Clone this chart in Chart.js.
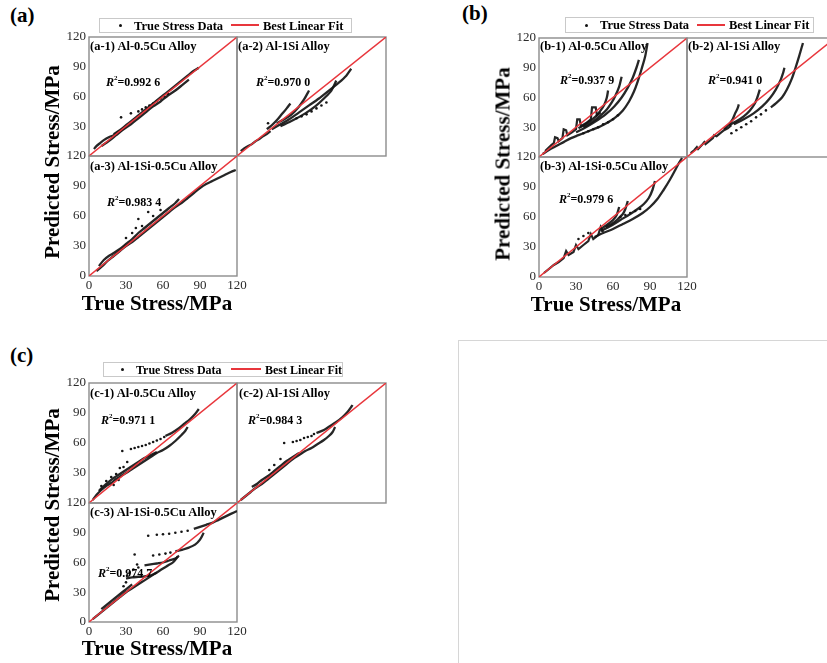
<!DOCTYPE html>
<html><head><meta charset="utf-8">
<script src="https://cdn.jsdelivr.net/npm/chart.js@4.4.1/dist/chart.umd.min.js"></script>
<style>
html,body{margin:0;padding:0;background:#fff;}
body{width:827px;height:663px;overflow:hidden;position:relative;font-family:"Liberation Serif","Times New Roman",serif;}
canvas{position:absolute;}
.t{position:absolute;white-space:nowrap;color:#000;font-weight:bold;line-height:1;}
.panel{font-size:21px;transform:translateY(-50%);}
.lab{font-size:12.5px;transform:translateY(-50%);}
.r2{font-size:12px;transform:translateY(-50%);}
.r2 sup{font-size:7px;vertical-align:top;position:relative;top:-1px;}
.ytit{font-size:21px;transform:translate(-50%,-50%) rotate(-90deg);}
.xtit{font-size:21px;transform:translate(-50%,-50%);}
.leg{position:absolute;border:1px solid #c9c9c9;box-sizing:border-box;background:#fff;}
.leg .txt{position:absolute;top:50%;transform:translateY(-50%);font-weight:bold;line-height:1;white-space:nowrap;}
.leg .dot{position:absolute;width:3px;height:3px;border-radius:50%;background:#111;}
.leg .ln{position:absolute;height:2px;background:#e8363c;}
.frame2{position:absolute;border-left:1px solid #d6d6d6;border-top:1px solid #d6d6d6;}
</style></head><body>
<script>
// ---------- data (true stress, predicted stress) in MPa ----------
const tickValues = [0, 30, 60, 90, 120];
const fitLine = [[0, 0], [120, 120]];
const legendLabels = ['True Stress Data', 'Best Linear Fit'];
const panelLetters = ['(a)', '(b)', '(c)'];
const alloyNames = ['Al-0.5Cu Alloy', 'Al-1Si Alloy', 'Al-1Si-0.5Cu Alloy'];
const r2Values = ['0.992 6', '0.970 0', '0.983 4', '0.937 9', '0.941 0', '0.979 6', '0.971 1', '0.984 3', '0.974 7'];

// (a-1)
const a1Band = [[4,7],[6,10],[9,13],[12,16],[16,19],[20,21],[25,25],[30,30]];
const a1Upper = [[20,22],[25,26],[30,31],[35,36],[40,41],[45,46],[50,51],[55,56],[60,61],[65,66],[70,71],[75,76],[80,81],[85,86],[89,89]];
const a1Lower = [[10,10],[16,15],[22,21],[28,27],[34,32],[40,38],[46,44],[52,50],[58,55],[64,61],[70,66],[76,72],[81,77]];
const a1Dots = [[26,39],[34,43],[40,45],[43,47],[46,49],[49,51],[52,53],[55,55.5],[58,58],[61,60],[64,62.5]];
// (a-2)
const a2Cluster = [[3,5],[6,8],[9,10],[12,12],[15,15],[18,17],[21,20],[24,22],[27,25]];
const a2Steep1 = [[24,27],[28,31],[32,36],[36,42],[40,48],[43,53]];
const a2Steep2 = [[32,33],[38,37],[44,42],[50,50],[54,57],[58,66]];
const a2Long = [[28,27],[35,32],[42,37],[50,44],[58,51],[66,58],[74,66],[82,74],[88,81],[92,88]];
const a2Low = [[35,30],[45,36],[55,43],[63,50],[70,58],[76,66],[80,76]];
const a2Dots = [[25,33],[48,38],[52,40],[56,42],[60,45],[64,48],[68,51],[72,54]];
// (a-3)
const a3Main = [[6,5],[10,9],[15,15],[20,20],[25,25],[30,30],[35,34],[40,39],[45,44],[50,49],[55,54],[60,59],[65,64],[70,69],[75,73],[80,78],[85,83],[90,88],[95,92],[100,95],[105,98],[110,101],[115,104],[119,106]];
const a3Upper = [[8,10],[12,16],[16,20],[20,23],[25,27],[30,32],[35,37],[40,43],[45,48],[50,53],[55,58],[60,63],[65,68],[70,73],[73,77]];
const a3Dots = [[30,38],[35,43],[38,48],[40,57],[43,50],[48,64],[52,60],[58,66]];

// (b-1)
const b1Long = [[3,3],[8,7],[14,11],[20,15],[26,19],[32,22],[38,25],[44,28],[50,31],[56,35],[62,40],[68,47],[73,56],[77,66],[80,76],[83,88],[86,101],[88,115]];
const b1Mid = [[30,25],[38,30],[46,36],[54,43],[61,51],[67,60],[72,70],[76,80],[79,90],[81,98]];
const b1Short = [[36,30],[44,36],[50,42],[55,48],[59,55],[62,62],[65,71],[67,81]];
const b1Spike = [[32,29],[40,35],[46,41],[50,47],[53,53],[55,60],[56,67]];
const b1Band = [[5,6],[10,12],[12,14],[13,20],[15,19],[16,16],[19,19],[20,28],[22,27],[23,22],[27,25],[30,28],[31,38],[33,38],[34,31],[38,34],[42,38],[43,50],[46,50],[47,42],[50,45]];
const b1Dots = [[36,24],[40,26],[44,28],[48,30],[52,33],[56,35],[60,38],[64,42]];
// (b-2)
const b2Band = [[3,4],[6,7],[8,10],[9,8],[12,12],[14,15],[15,13],[18,16],[21,19],[22,22],[24,21],[27,24],[30,27],[33,29],[36,32]];
const b2Long = [[68,50],[72,54],[77,60],[81,68],[85,79],[88,90],[91,102],[94,115]];
const b2Mid = [[38,33],[46,38],[54,44],[61,51],[67,59],[72,68],[76,78],[78,85],[79,90]];
const b2Short = [[34,32],[40,36],[46,41],[51,47],[55,54],[57,60],[59,68]];
const b2Spike = [[30,28],[34,33],[37,38],[39,44],[41,49],[42,53]];
const b2Dots = [[36,24],[40,27],[44,30],[48,33],[52,36],[56,40],[60,43],[64,47]];
// (b-3)
const b3Band = [[4,4],[8,8],[12,12],[16,15],[20,19],[22,26],[24,22],[28,25],[30,32],[32,28],[36,32],[40,36],[42,43],[44,38],[48,42],[50,50],[52,45]];
const b3Long = [[45,40],[52,44],[60,48],[68,53],[76,58],[84,64],[90,70],[96,78],[101,87],[106,97],[110,106],[113,113],[116,119]];
const b3Mid = [[50,46],[58,51],[66,57],[74,63],[80,68],[85,73],[89,79],[92,87],[94,96]];
const b3Short = [[54,50],[60,54],[64,58],[68,63],[70,68],[72,76]];
const b3Spike = [[50,48],[56,53],[60,57],[63,62],[65,70]];
const b3Dots = [[32,38],[36,41],[40,44],[66,60],[70,62],[74,64],[78,66],[82,68]];

// (c-1)
const c1Band = [[3,3],[6,8],[10,13],[14,17],[18,20],[22,24],[26,27],[30,30],[35,34],[40,38],[45,42],[50,46],[55,50],[60,53],[65,57],[70,62],[75,68],[78,72],[80,76]];
const c1Band2 = [[8,12],[12,17],[16,21],[20,25],[25,29],[30,33],[35,37],[40,41],[45,45],[50,48],[55,51]];
const c1Upper = [[62,67],[67,70],[72,74],[77,79],[82,84],[86,89],[89,94]];
const c1Dots = [[27,52],[34,54],[37,55],[40,56],[43,57],[46,58],[49,59.5],[52,61],[55,62.5],[58,64],[61,66],[10,17],[14,22],[18,26],[22,29],[25,35],[28,36],[31,41],[20,18],[24,23]];
// (c-2)
const c2Band = [[3,3],[7,7],[11,11],[15,15],[20,19],[25,24],[30,29],[35,34],[40,39],[45,44],[50,48],[55,52],[60,55],[65,59],[70,63],[74,67],[77,71],[79,76]];
const c2Band2 = [[12,16],[16,19],[20,23],[25,27],[30,32],[35,37],[40,42],[45,46],[50,50]];
const c2Upper = [[64,70],[70,73],[75,77],[80,81],[85,86],[89,91],[92,96],[93,98]];
const c2Dots = [[38,60],[45,61],[48,62],[51,63],[54,65],[57,66],[60,67],[62,69],[26,33],[30,38],[35,44]];
// (c-3)
const c3Band = [[3,3],[7,7],[11,11],[15,15],[20,20],[25,25],[30,30],[35,34],[40,38],[45,42],[50,46],[55,50],[60,54],[64,57],[68,60],[72,66]];
const c3Band2 = [[10,13],[15,18],[20,23],[25,28],[30,33],[35,38]];
const c3Flat = [[45,57],[50,58],[55,59],[60,60],[65,62],[70,64],[73,67]];
const c3Streak = [[30,44],[35,45],[40,45.5],[45,46],[50,47],[55,50]];
const c3Mid = [[70,71],[76,73],[81,75],[86,78],[90,83],[93,90]];
const c3Top = [[85,94],[90,96],[95,98],[100,100],[105,103],[110,106],[115,109],[120,112]];
const c3Dots = [[48,87],[55,88],[60,88.5],[65,89],[70,90],[75,91],[80,92],[52,67],[57,68],[62,69],[66,70],[37,68],[39,58],[31,47],[33,50],[36,53],[40,55],[28,36],[30,40]];

// ---------- layout ----------
const PAD = {l: 40, t: 10, r: 14, b: 24};
const FONT = '"Liberation Serif","Times New Roman",serif';
const PANELS = [
  {letter: 0, lx: 10, ly: 15, xs: [89, 237, 386], ys: [37, 156, 276], leg: [99, 18, 253, 15, 0],
   ytit: [52, 162], xtit: [157, 303]},
  {letter: 1, lx: 462, ly: 13, xs: [539, 687, 835], ys: [38, 157, 277], leg: [565, 17, 249, 16, 0],
   ytit: [503, 164], xtit: [606, 304]},
  {letter: 2, lx: 10, ly: 355, xs: [89, 237, 386], ys: [383, 503, 622], leg: [103, 362, 240, 15, 1],
   ytit: [52, 505], xtit: [157, 648]}
];
const SUBS = [
  {p: 0, c: 0, r: 0, tag: 'a-1', n: 0, r2: 0, lab: [1, 9], rr: [17, 45], lines: [a1Band, a1Upper, a1Lower], jag: [], dots: [a1Dots]},
  {p: 0, c: 1, r: 0, tag: 'a-2', n: 1, r2: 1, lab: [1, 9], rr: [19, 45], lines: [a2Steep1, a2Steep2, a2Long, a2Low], jag: [a2Cluster], dots: [a2Dots]},
  {p: 0, c: 0, r: 1, tag: 'a-3', n: 2, r2: 2, lab: [1, 10], rr: [18, 46], lines: [a3Main, a3Upper], jag: [], dots: [a3Dots]},
  {p: 1, c: 0, r: 0, tag: 'b-1', n: 0, r2: 3, lab: [1, 8], rr: [21, 42], lines: [b1Long, b1Mid, b1Short, b1Spike], jag: [b1Band], dots: [b1Dots]},
  {p: 1, c: 1, r: 0, tag: 'b-2', n: 1, r2: 4, lab: [1, 8], rr: [21, 42], lines: [b2Long, b2Mid, b2Short, b2Spike], jag: [b2Band], dots: [b2Dots]},
  {p: 1, c: 0, r: 1, tag: 'b-3', n: 2, r2: 5, lab: [1, 9], rr: [20, 42], lines: [b3Long, b3Mid, b3Short, b3Spike], jag: [b3Band], dots: [b3Dots]},
  {p: 2, c: 0, r: 0, tag: 'c-1', n: 0, r2: 6, lab: [1, 10], rr: [12, 37], lines: [c1Band, c1Band2, c1Upper], jag: [], dots: [c1Dots]},
  {p: 2, c: 1, r: 0, tag: 'c-2', n: 1, r2: 7, lab: [2, 10], rr: [11, 37], lines: [c2Band, c2Band2, c2Upper], jag: [], dots: [c2Dots]},
  {p: 2, c: 0, r: 1, tag: 'c-3', n: 2, r2: 8, lab: [1, 9], rr: [9, 70], lines: [c3Band, c3Band2, c3Flat, c3Streak, c3Mid, c3Top], jag: [], dots: [c3Dots]}
];

const framePlugin = {
  id: 'frame',
  beforeDatasetsDraw(chart) {
    const {ctx, chartArea: a} = chart;
    ctx.save();
    ctx.strokeStyle = '#8c8c8c';
    ctx.lineWidth = 1.4;
    ctx.strokeRect(a.left, a.top, a.right - a.left, a.bottom - a.top);
    ctx.restore();
  }
};

function pts(arr) { return arr.map(([x, y]) => ({x, y})); }

function addText(cls, html, x, y) {
  const d = document.createElement('div');
  d.className = 't ' + cls;
  d.innerHTML = html;
  d.style.left = x + 'px';
  d.style.top = y + 'px';
  document.body.appendChild(d);
  return d;
}

function makeSub(s) {
  const P = PANELS[s.p];
  const x0 = P.xs[s.c], x1 = P.xs[s.c + 1];
  const y0 = P.ys[s.r], y1 = P.ys[s.r + 1];
  const w = x1 - x0, h = y1 - y0;
  const cv = document.createElement('canvas');
  cv.width = w + PAD.l + PAD.r;
  cv.height = h + PAD.t + PAD.b;
  cv.style.left = (x0 - PAD.l) + 'px';
  cv.style.top = (y0 - PAD.t) + 'px';
  document.body.appendChild(cv);

  const showY = s.c === 0;
  const showX = s.c === 0 && s.r === 1;
  const hideZeroY = s.r === 0;

  const datasets = [{
    label: legendLabels[1], data: pts(fitLine), showLine: true,
    borderColor: '#e8363c', borderWidth: 1.4, pointRadius: 0, tension: 0
  }];
  s.lines.forEach(l => datasets.push({
    label: legendLabels[0], data: pts(l), showLine: true,
    borderColor: 'rgba(20,20,20,0.92)', borderWidth: 2.3, pointRadius: 0, tension: 0.3
  }));
  s.jag.forEach(l => datasets.push({
    label: legendLabels[0], data: pts(l), showLine: true,
    borderColor: 'rgba(20,20,20,0.92)', borderWidth: 2.2, pointRadius: 0, tension: 0
  }));
  s.dots.forEach(l => datasets.push({
    label: legendLabels[0], data: pts(l), showLine: false,
    pointRadius: 1.3, pointBackgroundColor: '#151515', pointBorderWidth: 0
  }));

  const tickFont = {family: FONT, size: 13};
  new Chart(cv, {
    type: 'scatter',
    data: {datasets},
    plugins: [framePlugin],
    options: {
      responsive: false, animation: false, events: [],
      layout: {padding: {left: 0, top: PAD.t, right: PAD.r, bottom: 0}},
      plugins: {legend: {display: false}, tooltip: {enabled: false}},
      scales: {
        x: {
          type: 'linear', min: 0, max: 120, position: 'bottom',
          afterBuildTicks: sc => { sc.ticks = tickValues.map(v => ({value: v})); },
          ticks: {display: showX, font: tickFont, color: '#2a2a2a', padding: 2, maxRotation: 0, autoSkip: false},
          grid: {display: false, drawTicks: false, tickLength: 0}, border: {display: false},
          afterFit: sc => { sc.height = PAD.b; sc.paddingLeft = 0; sc.paddingRight = 0; }
        },
        y: {
          type: 'linear', min: 0, max: 120, position: 'left',
          afterBuildTicks: sc => { sc.ticks = tickValues.map(v => ({value: v})); },
          ticks: {display: showY, font: tickFont, color: '#2a2a2a', padding: 3, autoSkip: false,
                  callback: v => (hideZeroY && v === 0) ? '' : String(v)},
          grid: {display: false, drawTicks: false, tickLength: 0}, border: {display: false},
          afterFit: sc => { sc.width = PAD.l; sc.paddingTop = 0; sc.paddingBottom = 0; }
        }
      }
    }
  });

  addText('lab', '(' + s.tag + ') ' + alloyNames[s.n], x0 + s.lab[0], y0 + s.lab[1]);
  addText('r2', '<i>R</i><sup>2</sup>=' + r2Values[s.r2], x0 + s.rr[0], y0 + s.rr[1]);
}

function makePanel(P) {
  addText('panel', panelLetters[P.letter], P.lx, P.ly);
  addText('ytit', 'Predicted Stress/MPa', P.ytit[0], P.ytit[1]);
  addText('xtit', 'True Stress/MPa', P.xtit[0], P.xtit[1]);
  const [lx, ly, lw, lh, compact] = P.leg;
  const g = document.createElement('div');
  g.className = 'leg';
  g.style.left = lx + 'px'; g.style.top = ly + 'px';
  g.style.width = lw + 'px'; g.style.height = lh + 'px';
  const o = compact ? [17, 32, 127, 30, 161] : [19, 34, 131, 28, 163];
  const fs = compact ? 12 : 12.5;
  const mid = Math.floor((lh - 2) / 2);
  g.innerHTML =
    '<span class="dot" style="left:' + o[0] + 'px;top:' + (mid - 1) + 'px"></span>' +
    '<span class="txt" style="font-size:' + fs + 'px;left:' + o[1] + 'px">' + legendLabels[0] + '</span>' +
    '<span class="ln" style="left:' + o[2] + 'px;top:' + (mid - 1) + 'px;width:' + o[3] + 'px"></span>' +
    '<span class="txt" style="font-size:' + fs + 'px;left:' + o[4] + 'px">' + legendLabels[1] + '</span>';
  document.body.appendChild(g);
}

const fr = document.createElement('div');
fr.className = 'frame2';
fr.style.left = '458px'; fr.style.top = '340px';
fr.style.width = '369px'; fr.style.height = '323px';
document.body.appendChild(fr);

SUBS.forEach(makeSub);
PANELS.forEach(makePanel);
</script>
</body></html>
